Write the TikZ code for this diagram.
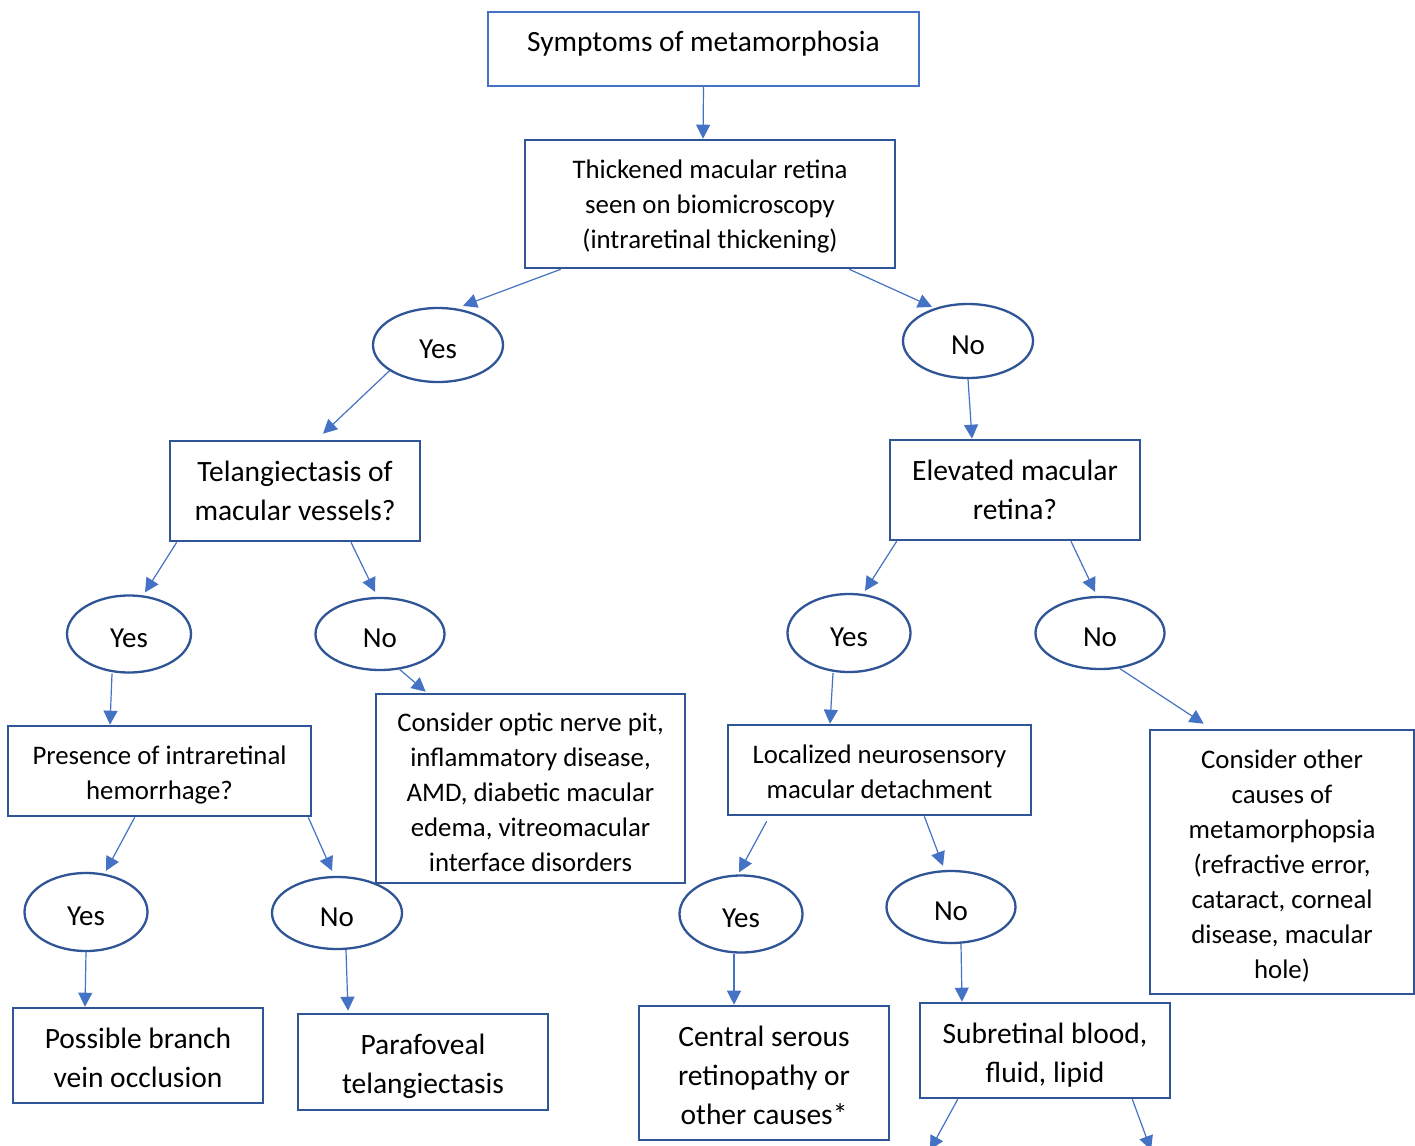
\documentclass[tikz,border=0pt]{standalone}
\usepackage{fontspec}
\setmainfont{Carlito}
\usetikzlibrary{shapes.geometric,arrows.meta}
\definecolor{edgeblue}{HTML}{2F5597}
\definecolor{lineblue}{HTML}{4472C4}
\begin{document}
\begin{tikzpicture}[x=1pt,y=-1pt,
  box/.style={draw=edgeblue, line width=2.6pt, rectangle, inner sep=0pt},
  boxtext/.style={align=center, inner sep=0pt, font=\fontsize{26.8}{35}\selectfont},
  bigtext/.style={boxtext, font=\fontsize{29.5}{39}\selectfont},
  choice/.style={draw=edgeblue, line width=2.3pt, ellipse, inner sep=0pt,
                 font=\fontsize{29}{32}\selectfont, text height=26pt, text depth=0pt},
  link/.style={draw=lineblue, line width=1.2pt, -{Triangle[length=14pt,width=14pt]}},
]
\fill[white] (0,0) rectangle (1415,1145);
\useasboundingbox (0,0) rectangle (1415,1145);

% decision boxes (frames)
\node[box, draw=lineblue, line width=2.1pt, minimum width=431pt, minimum height=74pt] (start) at (703.5,49) {};
\node[box, minimum width=370pt, minimum height=128pt] (thick)   at (710,204) {};
\node[box, minimum width=250pt, minimum height=100pt] (tel)     at (295,491) {};
\node[box, minimum width=250pt, minimum height=100pt] (elev)    at (1015,490) {};
\node[box, minimum width=303pt, minimum height=90pt]  (pres)    at (159.5,771) {};
\node[box, minimum width=309pt, minimum height=189pt] (optic)   at (530.5,788.5) {};
\node[box, minimum width=303pt, minimum height=90pt]  (local)   at (879.5,770) {};
\node[box, minimum width=264pt, minimum height=264pt] (other)   at (1282,862) {};
\node[box, minimum width=250pt, minimum height=95pt]  (branch)  at (138,1055.5) {};
\node[box, minimum width=250pt, minimum height=96pt]  (para)    at (423,1062) {};
\node[box, minimum width=250pt, minimum height=134pt] (central) at (764,1073) {};
\node[box, minimum width=250pt, minimum height=95pt]  (subret)  at (1045,1050.5) {};

% box texts
\node[boxtext, font=\fontsize{29.4}{32}\selectfont] (startT) at ([yshift=5pt]start.center)
      {Symptoms of metamorphosia};
\node[boxtext] (thickT) at ([yshift=-2pt]thick.center)
      {Thickened macular retina\\seen on biomicroscopy\\(intraretinal thickening)};
\node[bigtext] (telT) at (tel.center) {Telangiectasis of\\macular vessels?};
\node[bigtext] (elevT) at (elev.center) {Elevated macular\\retina?};
\node[boxtext] (presT) at ([yshift=-4pt]pres.center) {Presence of intraretinal\\hemorrhage?};
\node[boxtext] (opticT) at ([yshift=-4pt]optic.center)
      {Consider optic nerve pit,\\inflammatory disease,\\AMD, diabetic macular\\edema, vitreomacular\\interface disorders};
\node[boxtext] (localT) at ([yshift=-2pt]local.center) {Localized neurosensory\\macular detachment};
\node[boxtext] (otherT) at ([yshift=-4pt]other.center)
      {Consider other\\causes of\\metamorphopsia\\(refractive error,\\cataract, corneal\\disease, macular\\hole)};
\node[bigtext] (branchT) at ([yshift=-2pt]branch.center) {Possible branch\\vein occlusion};
\node[bigtext] (paraT) at ([yshift=-4pt]para.center) {Parafoveal\\telangiectasis};
\node[bigtext] (centralT) at ([yshift=-2pt]central.center) {Central serous\\retinopathy or\\other causes*};
\node[bigtext] (subretT) at ([yshift=-5pt]subret.center) {Subretinal blood,\\fluid, lipid};

% yes / no answers
\node[choice, minimum width=130pt, minimum height=74pt] (y1) at (438,345) {Yes};
\node[choice, minimum width=130pt, minimum height=74pt] (n1) at (968,341) {No};
\node[choice, minimum width=124pt, minimum height=77pt] (y2) at (129,634) {Yes};
\node[choice, minimum width=129pt, minimum height=72pt] (n2) at (380,634) {No};
\node[choice, minimum width=123pt, minimum height=78pt] (y3) at (849,633) {Yes};
\node[choice, minimum width=129pt, minimum height=72pt] (n3) at (1100,633) {No};
\node[choice, minimum width=123pt, minimum height=78pt] (y4) at (86,912) {Yes};
\node[choice, minimum width=130pt, minimum height=72pt] (n4) at (337,913) {No};
\node[choice, minimum width=123pt, minimum height=77pt] (y5) at (741,914) {Yes};
\node[choice, minimum width=129pt, minimum height=72pt] (n5) at (951,907) {No};

% loose ends below the last box
\coordinate (outA) at (930,1150);
\coordinate (outB) at (1151,1150);

% connectors
\draw[link] (start.south) -- ([xshift=-7pt]thick.north);
\draw[link] ([xshift=37pt]thick.south west) -- ([xshift=25pt,yshift=1pt]y1.north);
\draw[link] ([xshift=-47pt]thick.south east) -- ([xshift=-36pt,yshift=-4pt]n1.north);
\draw[link] (y1.208) -- ([xshift=28pt,yshift=6pt]tel.north);
\draw[link] (n1.south) -- ([xshift=-43pt]elev.north);
\draw[link] ([xshift=8pt]tel.south west) -- ([xshift=16pt,yshift=2pt]y2.north);
\draw[link] ([xshift=56pt]tel.south) -- ([xshift=-5pt,yshift=5pt]n2.north);
\draw[link] ([xshift=8pt]elev.south west) -- ([xshift=16pt,yshift=2pt]y3.north);
\draw[link] ([xshift=56pt]elev.south) -- ([xshift=-5pt,yshift=4pt]n3.north);
\draw[link] ([xshift=-17pt]y2.south) -- ([xshift=-49.5pt]pres.north);
\draw[link] (n2.-61) -- ([xshift=51pt,yshift=1pt]optic.north west);
\draw[link] ([xshift=-16pt]y3.south) -- ([xshift=-49.5pt]local.north);
\draw[link] (n3.-61) -- ([xshift=55pt,yshift=5pt]other.north west);
\draw[link] ([xshift=128pt]pres.south west) -- ([xshift=20pt,yshift=1pt]y4.north);
\draw[link] ([xshift=-4pt]pres.south east) -- ([xshift=-5pt,yshift=5pt]n4.north);
\draw[link] ([xshift=40pt,yshift=-5pt]local.south west) -- ([xshift=-2pt,yshift=2pt]y5.north);
\draw[link] ([xshift=-108pt]local.south east) -- ([xshift=-8pt,yshift=4pt]n5.north);
\draw[link] (y4.south) -- ([xshift=-53pt]branch.north);
\draw[link] ([xshift=9pt]n4.south) -- ([xshift=-75pt,yshift=2pt]para.north);
\draw[link] ([xshift=-7pt]y5.south) -- ([xshift=-30pt]central.north);
\draw[link] ([xshift=10pt]n5.south) -- ([xshift=-83pt]subret.north);
\draw[link] ([xshift=39pt]subret.south west) -- (outA);
\draw[link] ([xshift=-39pt]subret.south east) -- (outB);
\end{tikzpicture}
\end{document}
